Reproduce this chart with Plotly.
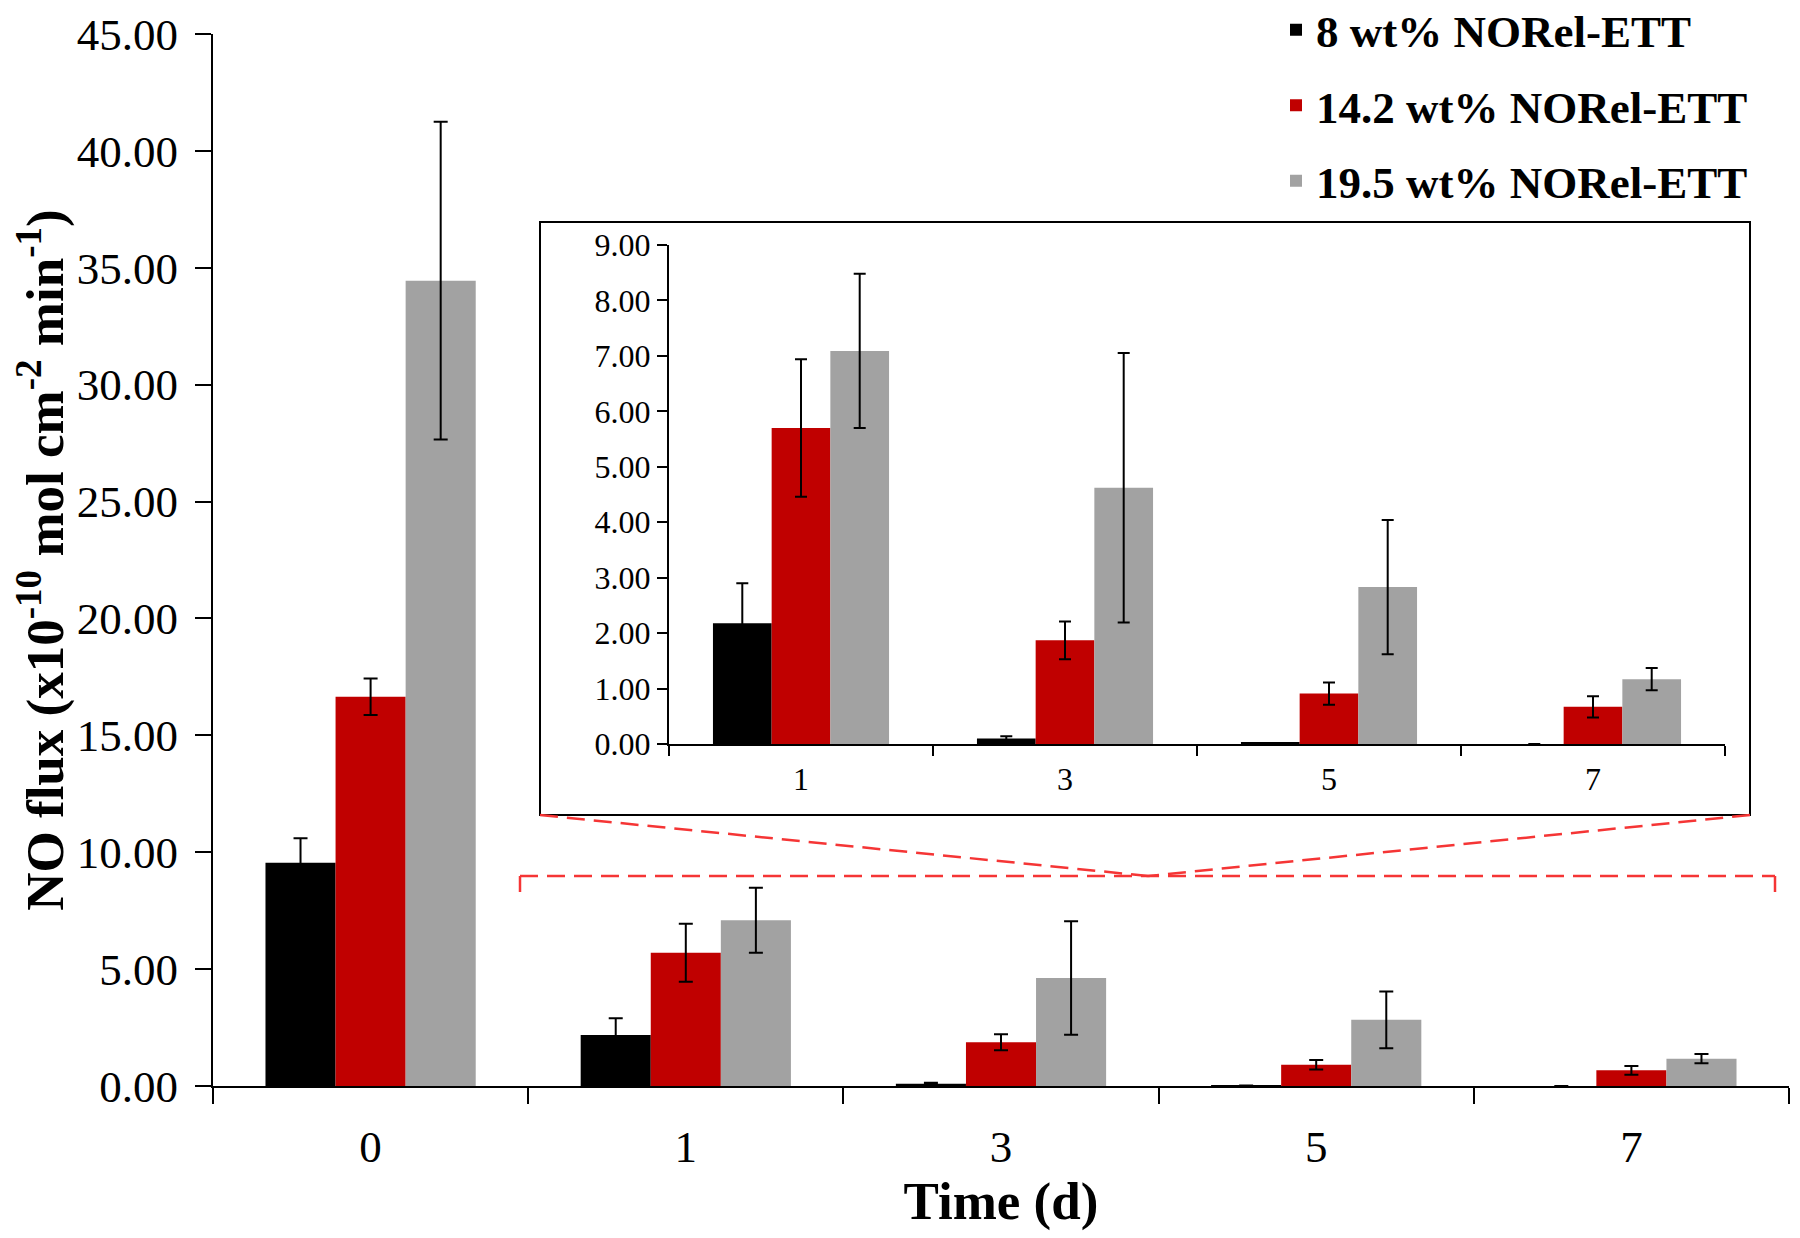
import plotly.graph_objects as go

# ---- data ----
days = ["0", "1", "3", "5", "7"]
series_names = ["8 wt% NORel-ETT", "14.2 wt% NORel-ETT", "19.5 wt% NORel-ETT"]
flux_8 = [9.55, 2.18, 0.10, 0.02, 0.0]
flux_14 = [16.65, 5.70, 1.87, 0.91, 0.67]
flux_19 = [34.45, 7.09, 4.62, 2.83, 1.17]
err_8 = [1.05, 0.72, 0.04, None, None]
err_14 = [0.78, 1.24, 0.34, 0.20, 0.19]
err_19 = [6.80, 1.39, 2.43, 1.21, 0.20]
colors = ["#000000", "#c00000", "#a2a2a2"]

values = [flux_8, flux_14, flux_19]
errors = [err_8, err_14, err_19]

FONT = "Liberation Serif, Times New Roman, serif"

fig = go.Figure()

# main chart
for name, v, e, c in zip(series_names, values, errors, colors):
    fig.add_trace(go.Bar(
        x=days, y=v, name=name, marker=dict(color=c, line=dict(width=0)),
        error_y=dict(type="data", array=e, visible=True, color="black", thickness=2, width=7),
        xaxis="x", yaxis="y", legendgroup=name,
    ))

# inset chart (days 1..7)
for name, v, e, c in zip(series_names, values, errors, colors):
    fig.add_trace(go.Bar(
        x=days[1:], y=v[1:], name=name, marker=dict(color=c, line=dict(width=0)),
        error_y=dict(type="data", array=e[1:], visible=True, color="black", thickness=2, width=6),
        xaxis="x2", yaxis="y2", showlegend=False, legendgroup=name,
    ))

W, H = 1800, 1238
OFF = 8  # page body margin
ml, mr, mt, mb = 205, 19, 26, 160
pw, ph = W - ml - mr, H - mt - mb

def px(x):
    return (x - OFF - ml) / pw

def py(y):
    return (H - mb - (y - OFF)) / ph

fig.update_layout(
    width=W, height=H,
    margin=dict(l=ml, r=mr, t=mt, b=mb, autoexpand=False),
    paper_bgcolor="white", plot_bgcolor="rgba(0,0,0,0)",
    font=dict(family=FONT, color="black", size=45),
    barmode="group", bargap=0.333, bargroupgap=0,
    showlegend=True,
    legend=dict(
        x=px(1276), y=py(-6), xanchor="left", yanchor="top",
        font=dict(family=FONT, size=45, color="black", weight="bold"),
        bgcolor="rgba(0,0,0,0)", tracegroupgap=14, traceorder="grouped",
        itemwidth=30,
    ),
    xaxis=dict(
        domain=[0, 1], type="category", showline=True, linecolor="black", linewidth=2,
        ticks="outside", tickson="boundaries", ticklen=16, tickwidth=2, tickcolor="black",
        tickfont=dict(size=45), showgrid=False, zeroline=False, automargin=False,
        ticklabelstandoff=20, ticklabeloverflow="allow",
        title=dict(text="<b>Time (d)</b>", font=dict(size=53), standoff=10),
    ),
    yaxis=dict(
        domain=[0, 1], range=[0, 45], dtick=5, tickformat=".2f", showline=True,
        linecolor="black", linewidth=2, ticks="outside", ticklen=16, tickwidth=2,
        tickcolor="black", tickfont=dict(size=45), showgrid=False, zeroline=False,
        ticklabelstandoff=8, automargin=False, ticklabeloverflow="allow",
        title=dict(text="<b>NO flux (x10<sup>-10</sup> mol cm<sup>-2</sup> min<sup>-1</sup>)</b>",
                   font=dict(size=53), standoff=12),
    ),
    xaxis2=dict(
        domain=[px(669), px(1725)], anchor="y2", type="category", showline=True,
        linecolor="black", linewidth=2, ticks="outside", tickson="boundaries", ticklen=10,
        tickwidth=2, tickcolor="black", tickfont=dict(size=32), showgrid=False, zeroline=False,
        ticklabelstandoff=6,
    ),
    yaxis2=dict(
        domain=[py(744), py(245)], anchor="x2", range=[0, 9], dtick=1, tickformat=".2f",
        showline=True, linecolor="black", linewidth=2, ticks="outside", ticklen=10,
        tickwidth=2, tickcolor="black", tickfont=dict(size=32), showgrid=False, zeroline=False,
    ),
)

# inset frame
fig.add_shape(type="rect", xref="paper", yref="paper",
              x0=px(540), x1=px(1750), y0=py(815), y1=py(222),
              line=dict(color="black", width=2), fillcolor="white", layer="below")

red = "#f53535"
dash = dict(color=red, width=2.5, dash="18px,9px")
# bracket over zoomed region
fig.add_shape(type="line", xref="paper", yref="paper",
              x0=px(520), x1=px(1775), y0=py(876), y1=py(876), line=dash)
fig.add_shape(type="line", xref="paper", yref="paper",
              x0=px(520), x1=px(520), y0=py(876), y1=py(892), line=dash)
fig.add_shape(type="line", xref="paper", yref="paper",
              x0=px(1775), x1=px(1775), y0=py(876), y1=py(892), line=dash)
# connectors to inset
fig.add_shape(type="line", xref="paper", yref="paper",
              x0=px(540), x1=px(1148), y0=py(815), y1=py(876), line=dash)
fig.add_shape(type="line", xref="paper", yref="paper",
              x0=px(1750), x1=px(1148), y0=py(815), y1=py(876), line=dash)

fig.write_html("out.html")
